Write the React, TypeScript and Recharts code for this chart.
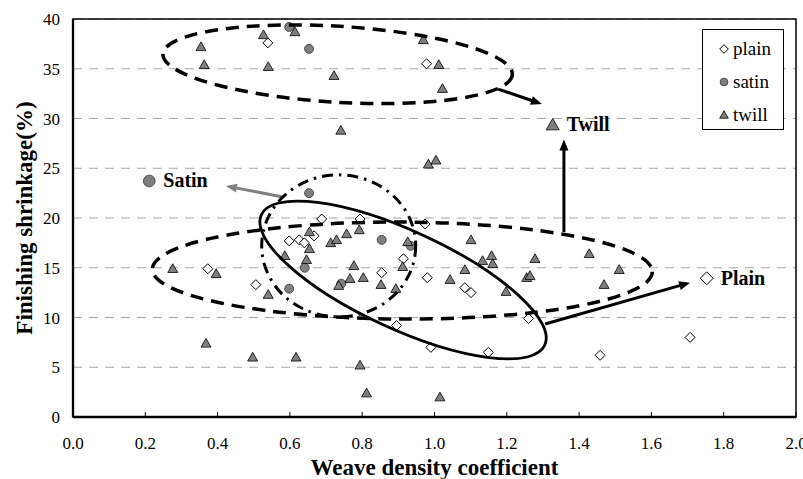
import React from 'react';
import {
  ScatterChart,
  Scatter,
  XAxis,
  YAxis,
  CartesianGrid,
  Legend,
  ReferenceArea,
  ReferenceDot,
  ReferenceLine,
  Label,
} from 'recharts';

// Finishing shrinkage vs weave density coefficient, by weave type

const FONT = '"Liberation Serif", "Times New Roman", serif';

const xTicks = [0, 0.2, 0.4, 0.6, 0.8, 1.0, 1.2, 1.4, 1.6, 1.8, 2.0];
const yTicks = [0, 5, 10, 15, 20, 25, 30, 35, 40];

const plainPoints = [
  { x: 0.539, y: 37.6 }, { x: 0.978, y: 35.5 }, { x: 0.688, y: 19.9 }, { x: 0.794, y: 19.9 },
  { x: 0.974, y: 19.4 }, { x: 0.667, y: 18.2 }, { x: 0.598, y: 17.7 }, { x: 0.626, y: 17.8 },
  { x: 0.64, y: 17.5 }, { x: 0.914, y: 15.9 }, { x: 0.854, y: 14.5 }, { x: 0.98, y: 14.0 },
  { x: 0.373, y: 14.9 }, { x: 0.506, y: 13.3 }, { x: 1.084, y: 13.0 }, { x: 1.101, y: 12.5 },
  { x: 0.895, y: 9.2 }, { x: 0.99, y: 7.0 }, { x: 1.149, y: 6.5 }, { x: 1.26, y: 9.9 },
  { x: 1.458, y: 6.2 }, { x: 1.707, y: 8.0 },
];

const satinPoints = [
  { x: 0.598, y: 39.2 }, { x: 0.653, y: 37.0 }, { x: 0.653, y: 22.5 }, { x: 0.641, y: 15.0 },
  { x: 0.598, y: 12.9 }, { x: 0.742, y: 13.4 }, { x: 0.854, y: 17.8 }, { x: 0.934, y: 17.2 },
];

const twillPoints = [
  { x: 0.354, y: 37.2 }, { x: 0.363, y: 35.4 }, { x: 0.527, y: 38.4 }, { x: 0.54, y: 35.2 },
  { x: 0.614, y: 38.7 }, { x: 0.722, y: 34.3 }, { x: 0.969, y: 37.9 }, { x: 1.012, y: 35.4 },
  { x: 1.022, y: 33.0 }, { x: 0.741, y: 28.8 }, { x: 0.983, y: 25.4 }, { x: 1.004, y: 25.8 },
  { x: 0.654, y: 18.6 }, { x: 0.654, y: 16.9 }, { x: 0.586, y: 16.2 }, { x: 0.646, y: 15.8 },
  { x: 0.713, y: 17.5 }, { x: 0.729, y: 17.8 }, { x: 0.757, y: 18.4 }, { x: 0.792, y: 18.8 },
  { x: 0.777, y: 15.2 }, { x: 0.766, y: 13.9 }, { x: 0.803, y: 14.0 }, { x: 0.735, y: 13.2 },
  { x: 0.926, y: 17.6 }, { x: 0.912, y: 15.1 }, { x: 0.852, y: 13.3 }, { x: 0.893, y: 12.9 },
  { x: 1.043, y: 13.8 }, { x: 1.084, y: 14.8 }, { x: 1.101, y: 17.8 }, { x: 1.133, y: 15.7 },
  { x: 1.158, y: 16.2 }, { x: 1.161, y: 15.4 }, { x: 1.198, y: 12.6 }, { x: 1.278, y: 15.9 },
  { x: 1.255, y: 14.0 }, { x: 1.264, y: 14.2 }, { x: 1.428, y: 16.4 }, { x: 1.511, y: 14.8 },
  { x: 1.469, y: 13.3 }, { x: 0.276, y: 14.9 }, { x: 0.396, y: 14.4 }, { x: 0.54, y: 12.3 },
  { x: 0.368, y: 7.4 }, { x: 0.497, y: 6.0 }, { x: 0.617, y: 6.0 }, { x: 0.794, y: 5.2 },
  { x: 0.812, y: 2.4 }, { x: 1.015, y: 2.0 },
];

// group outlines: centre in data units, radii in px, rotation in degrees
const groupOutlines = [
  { x: 0.732, y: 35.45, rx: 175, ry: 38, angle: 3.4, dash: '13 8', width: 3.5 },
  { x: 0.911, y: 14.72, rx: 250, ry: 48.5, angle: 0.3, dash: '13 8', width: 3.5 },
  { x: 0.913, y: 13.77, rx: 156, ry: 49, angle: 24.7, dash: undefined, width: 2.8 },
  { x: 0.735, y: 17.2, rx: 77, ry: 71, angle: 0, dash: '11 6 2.5 6', width: 3 },
];

const arrows = [
  { from: [1.176, 32.96], to: [1.297, 31.46], color: '#000' },
  { from: [1.358, 18.59], to: [1.358, 27.9], color: '#000' },
  { from: [1.306, 9.35], to: [1.707, 13.5], color: '#000' },
  { from: [0.581, 22.11], to: [0.423, 23.22], color: '#808080' },
];

const callouts = [
  { x: 1.327, y: 29.35, kind: 'twill', text: 'Twill' },
  { x: 0.211, y: 23.72, kind: 'satin', text: 'Satin' },
  { x: 1.753, y: 13.94, kind: 'plain', text: 'Plain' },
];

const legendItems = [
  { kind: 'plain', name: 'plain' },
  { kind: 'satin', name: 'satin' },
  { kind: 'twill', name: 'twill' },
];

function Marker({ kind, cx, cy, s = 5 }: { kind: string; cx: number; cy: number; s?: number }) {
  if (kind === 'plain') {
    return (
      <polygon
        points={`${cx},${cy - s} ${cx + s},${cy} ${cx},${cy + s} ${cx - s},${cy}`}
        fill="#fff"
        stroke="#000"
        strokeWidth={1}
      />
    );
  }
  if (kind === 'satin') {
    return <circle cx={cx} cy={cy} r={s * 0.9} fill="#7f7f7f" stroke="#333" strokeWidth={0.8} />;
  }
  return (
    <polygon
      points={`${cx},${cy - s} ${cx + s},${cy + s * 0.75} ${cx - s},${cy + s * 0.75}`}
      fill="#7f7f7f"
      stroke="#000"
      strokeWidth={0.8}
    />
  );
}

function arrowShape(color: string) {
  return (p: any) => {
    const { x1, y1, x2, y2 } = p;
    const dx = x2 - x1;
    const dy = y2 - y1;
    const len = Math.sqrt(dx * dx + dy * dy) || 1;
    const ux = dx / len;
    const uy = dy / len;
    const head = 11;
    const half = 4.5;
    const bx = x2 - ux * head;
    const by = y2 - uy * head;
    return (
      <g>
        <line x1={x1} y1={y1} x2={bx + ux} y2={by + uy} stroke={color} strokeWidth={3} />
        <polygon
          points={`${x2},${y2} ${bx - uy * half},${by + ux * half} ${bx + uy * half},${by - ux * half}`}
          fill={color}
        />
      </g>
    );
  };
}

function LegendBox() {
  return (
    <div
      style={{
        position: 'relative',
        width: 82,
        height: 101,
        boxSizing: 'border-box',
        border: '1px solid #000',
        background: '#fff',
        fontFamily: FONT,
        fontSize: 19,
        color: '#000',
      }}
    >
      {legendItems.map((item, i) => (
        <div
          key={item.name}
          style={{ position: 'absolute', left: 0, top: 8 + i * 33, height: 22, lineHeight: '22px', display: 'flex', alignItems: 'center' }}
        >
          <svg width={30} height={22} style={{ display: 'block' }}>
            <Marker kind={item.kind} cx={21} cy={11} s={4.3} />
          </svg>
          <span>{item.name}</span>
        </div>
      ))}
    </div>
  );
}

export default function App() {
  return (
    <div style={{ position: 'absolute', left: 0, top: 0, width: 803, height: 479, background: '#fff' }}>
      <ScatterChart width={803} height={479} margin={{ top: 19, right: 7, bottom: 0, left: 0 }}>
        <CartesianGrid vertical={false} stroke="#a6a6a6" strokeDasharray="9 7" />
        <XAxis
          type="number"
          dataKey="x"
          domain={[0, 2]}
          ticks={xTicks}
          interval={0}
          height={62}
          tickFormatter={(v: number) => v.toFixed(1)}
          axisLine={{ stroke: '#000', strokeWidth: 2.3 }}
          tickLine={{ stroke: '#000', strokeWidth: 1 }}
          tickSize={-5}
          tickMargin={25}
          tick={{ fill: '#000', fontSize: 17, fontFamily: FONT }}
        >
          <Label
            content={(props: any) => {
              const vb = props.viewBox || { x: 73, y: 417, width: 723 };
              return (
                <text
                  x={vb.x + vb.width / 2}
                  y={vb.y + 58}
                  textAnchor="middle"
                  fontFamily={FONT}
                  fontWeight="bold"
                  fontSize={23}
                  fill="#000"
                >
                  Weave density coefficient
                </text>
              );
            }}
          />
        </XAxis>
        <YAxis
          type="number"
          dataKey="y"
          domain={[0, 40]}
          ticks={yTicks}
          interval={0}
          width={73}
          axisLine={{ stroke: '#000', strokeWidth: 2.3 }}
          tickLine={false}
          tickSize={0}
          tickMargin={13}
          tick={{ fill: '#000', fontSize: 17, fontFamily: FONT }}
        >
          <Label
            content={(props: any) => {
              const vb = props.viewBox || { x: 0, y: 19, height: 398 };
              const cx = vb.x + 24;
              const cy = vb.y + vb.height / 2;
              return (
                <text
                  x={cx}
                  y={cy}
                  transform={`rotate(-90 ${cx} ${cy})`}
                  textAnchor="middle"
                  dominantBaseline="central"
                  fontFamily={FONT}
                  fontWeight="bold"
                  fontSize={23}
                  fill="#000"
                >
                  Finishing shrinkage(%)
                </text>
              );
            }}
          />
        </YAxis>
        <ReferenceArea x1={0} x2={2} y1={0} y2={40} fill="none" stroke="#000" strokeWidth={1.5} />
        <Legend
          layout="vertical"
          align="center"
          verticalAlign="middle"
          wrapperStyle={{ left: 702, top: 29, width: 82, height: 101 }}
          content={() => <LegendBox />}
        />
        <Scatter
          name="plain"
          data={plainPoints}
          isAnimationActive={false}
          shape={(p: any) => <Marker kind="plain" cx={p.cx} cy={p.cy} />}
        />
        <Scatter
          name="satin"
          data={satinPoints}
          isAnimationActive={false}
          shape={(p: any) => <Marker kind="satin" cx={p.cx} cy={p.cy} />}
        />
        <Scatter
          name="twill"
          data={twillPoints}
          isAnimationActive={false}
          shape={(p: any) => <Marker kind="twill" cx={p.cx} cy={p.cy} />}
        />
        {groupOutlines.map((g, i) => (
          <ReferenceDot
            key={`outline-${i}`}
            x={g.x}
            y={g.y}
            shape={(p: any) => (
              <ellipse
                cx={p.cx}
                cy={p.cy}
                rx={g.rx}
                ry={g.ry}
                transform={`rotate(${g.angle} ${p.cx} ${p.cy})`}
                fill="none"
                stroke="#000"
                strokeWidth={g.width}
                strokeDasharray={g.dash}
              />
            )}
          />
        ))}
        {arrows.map((a, i) => (
          <ReferenceLine
            key={`arrow-${i}`}
            segment={[
              { x: a.from[0], y: a.from[1] },
              { x: a.to[0], y: a.to[1] },
            ]}
            shape={arrowShape(a.color)}
          />
        ))}
        {callouts.map((c) => (
          <ReferenceDot
            key={c.text}
            x={c.x}
            y={c.y}
            shape={(p: any) => (
              <g>
                <Marker kind={c.kind} cx={p.cx} cy={p.cy} s={6.5} />
                <text
                  x={p.cx + 14}
                  y={p.cy + 6.5}
                  fontFamily={FONT}
                  fontWeight="bold"
                  fontSize={20}
                  fill="#000"
                >
                  {c.text}
                </text>
              </g>
            )}
          />
        ))}
      </ScatterChart>
    </div>
  );
}
